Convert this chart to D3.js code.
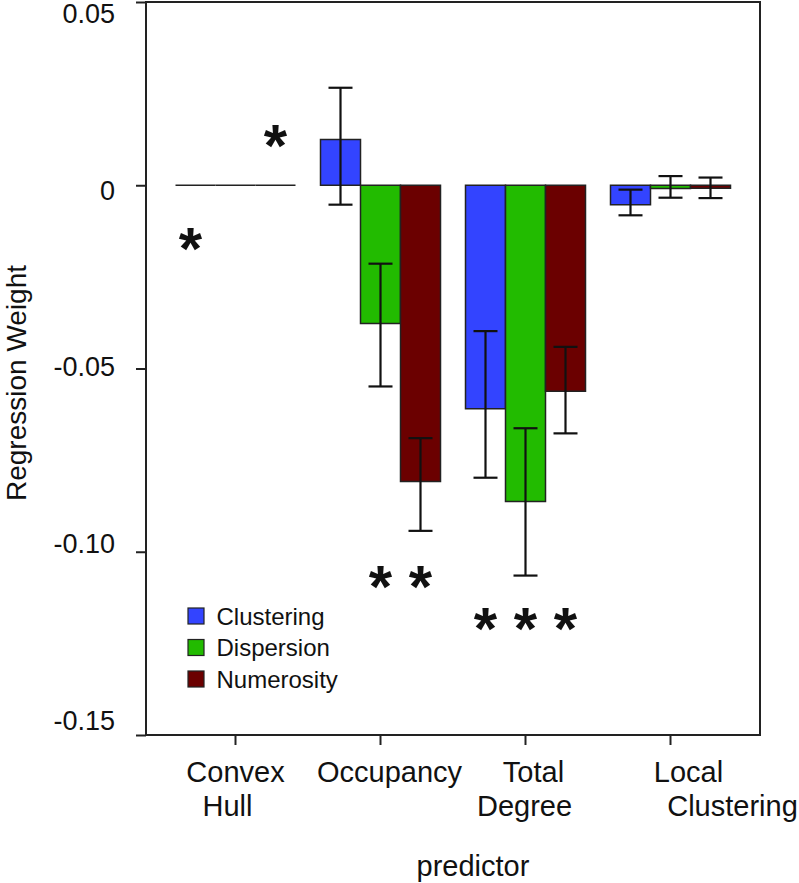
<!DOCTYPE html>
<html>
<head>
<meta charset="utf-8">
<script src="https://cdn.jsdelivr.net/npm/d3@7"></script>
<style>
  html, body { margin: 0; padding: 0; background: #fff; }
  svg { display: block; }
  text { font-family: "Liberation Sans", Arial, Helvetica, sans-serif; fill: #111; }
</style>
</head>
<body>
<svg id="chart" width="799" height="883"></svg>
<script>
// ---------- data ----------
const categories = ["Convex Hull", "Occupancy", "Total Degree", "Local Clustering"];
const categoryLines = [["Convex", "Hull"], ["Occupancy"], ["Total", "Degree"], ["Local", "Clustering"]];
const seriesNames = ["Clustering", "Dispersion", "Numerosity"];
const seriesColors = ["#3344ff", "#22bb00", "#6b0000"];

const clusteringValues = [0, 0.0125, -0.0610, -0.0053];
const clusteringLow    = [null, -0.0053, -0.0798, -0.0082];
const clusteringHigh   = [null, 0.0266, -0.0398, -0.0012];

const dispersionValues = [0, -0.0377, -0.0863, -0.0009];
const dispersionLow    = [null, -0.0549, -0.1065, -0.0034];
const dispersionHigh   = [null, -0.0214, -0.0663, 0.0025];

const numerosityValues = [0, -0.0808, -0.0562, -0.0008];
const numerosityLow    = [null, -0.0943, -0.0677, -0.0035];
const numerosityHigh   = [null, -0.0690, -0.0441, 0.0021];

const yTickValues = [0.05, 0, -0.05, -0.10, -0.15];
const yTickLabels = ["0.05", "0", "-0.05", "-0.10", "-0.15"];

// significance markers: category, series, vertical position (data units)
const starCategory = ["Convex Hull", "Convex Hull", "Occupancy", "Occupancy", "Total Degree", "Total Degree", "Total Degree"];
const starSeries   = ["Numerosity", "Clustering", "Dispersion", "Numerosity", "Clustering", "Dispersion", "Numerosity"];
const starValue    = [0.0145, -0.0136, -0.1059, -0.1059, -0.1174, -0.1174, -0.1174];

const xTitle = "predictor";
const yTitle = "Regression Weight";

// ---------- assemble ----------
const seriesTable = [
  { name: seriesNames[0], values: clusteringValues, low: clusteringLow, high: clusteringHigh },
  { name: seriesNames[1], values: dispersionValues, low: dispersionLow, high: dispersionHigh },
  { name: seriesNames[2], values: numerosityValues, low: numerosityLow, high: numerosityHigh }
];
const bars = [];
categories.forEach((c, i) => {
  seriesTable.forEach((s, j) => {
    bars.push({ cat: c, series: s.name, si: j, value: s.values[i], low: s.low[i], high: s.high[i] });
  });
});

// ---------- layout ----------
const frame = { left: 146, right: 760, top: 2, bottom: 735 };
const svg = d3.select("#chart");

const x0 = d3.scaleBand().domain(categories).range([163, 743]).padding(0);
const groupW = 120;
const x1 = d3.scaleBand().domain(seriesNames)
  .range([(x0.bandwidth() - groupW) / 2, (x0.bandwidth() + groupW) / 2]).padding(0);
const y = d3.scaleLinear().domain([-0.15, 0.05]).range([frame.bottom, frame.top]);
const color = d3.scaleOrdinal().domain(seriesNames).range(seriesColors);

// frame
svg.append("rect")
  .attr("x", frame.left).attr("y", frame.top)
  .attr("width", frame.right - frame.left).attr("height", frame.bottom - frame.top)
  .attr("fill", "none").attr("stroke", "#222").attr("stroke-width", 2);

// y axis
const yAxis = d3.axisLeft(y).tickValues(yTickValues)
  .tickFormat((d, i) => yTickLabels[i]).tickSize(10).tickSizeOuter(0).tickPadding(21);
const yg = svg.append("g").attr("transform", `translate(${frame.left},0)`).call(yAxis);
yg.select(".domain").remove();
yg.selectAll(".tick line").attr("stroke", "#222").attr("stroke-width", 2);
// labels are spread slightly tighter than the ticks in the reference
const labelCenter = d3.scaleLinear().domain([0.05, -0.15]).range([12.5, 720]);
yg.selectAll(".tick text")
  .attr("font-size", 27).attr("fill", "#111")
  .attr("font-family", "'Liberation Sans', Arial, Helvetica, sans-serif")
  .attr("dy", null)
  .attr("y", d => labelCenter(d) - y(d) + 0.36 * 27);

// x axis
const xAxis = d3.axisBottom(x0).tickSize(10).tickSizeOuter(0).tickFormat("");
const xg = svg.append("g").attr("transform", `translate(0,${frame.bottom})`).call(xAxis);
xg.select(".domain").remove();
xg.selectAll(".tick line").attr("stroke", "#222").attr("stroke-width", 2);

// category labels (multi-line)
const lineOffsets = [[0, -8], [9], [8, -1], [18, 62]];
categories.forEach((c, i) => {
  categoryLines[i].forEach((ln, k) => {
    svg.append("text")
      .attr("x", x0(c) + x0.bandwidth() / 2 + lineOffsets[i][k])
      .attr("y", 782 + k * 34)
      .attr("text-anchor", "middle")
      .attr("font-size", 29)
      .text(ln);
  });
});

// bars (drawn as closed paths so zero-height bars still show as a line)
const bx = d => x0(d.cat) + x1(d.series);
svg.append("g").selectAll("path").data(bars).join("path")
  .attr("d", d => {
    const xa = bx(d), xb = bx(d) + x1.bandwidth();
    const ya = y(0), yb = y(d.value);
    return `M${xa},${ya}L${xb},${ya}L${xb},${yb}L${xa},${yb}Z`;
  })
  .attr("fill", d => color(d.series))
  .attr("stroke", "#222").attr("stroke-width", 1.5);

// error bars
const eb = bars.filter(d => d.low !== null);
const cap = 12;
const cx = d => bx(d) + x1.bandwidth() / 2;
const eg = svg.append("g").attr("stroke", "#111").attr("stroke-width", 2.2);
eg.selectAll("line.v").data(eb).join("line").attr("class", "v")
  .attr("x1", cx).attr("x2", cx)
  .attr("y1", d => y(d.low)).attr("y2", d => y(d.high));
eg.selectAll("line.lo").data(eb).join("line").attr("class", "lo")
  .attr("x1", d => cx(d) - cap).attr("x2", d => cx(d) + cap)
  .attr("y1", d => y(d.low)).attr("y2", d => y(d.low));
eg.selectAll("line.hi").data(eb).join("line").attr("class", "hi")
  .attr("x1", d => cx(d) - cap).attr("x2", d => cx(d) + cap)
  .attr("y1", d => y(d.high)).attr("y2", d => y(d.high));

// significance stars
const starFs = 60;
svg.append("g").selectAll("text").data(starCategory.map((c, i) => ({ cat: c, series: starSeries[i], v: starValue[i] })))
  .join("text")
  .attr("x", d => cx(d) - (d.cat === "Convex Hull" && d.series === "Clustering" ? 5 : 0))
  .attr("y", d => y(d.v) + 0.56 * starFs)
  .attr("text-anchor", "middle")
  .attr("font-size", starFs).attr("font-weight", "bold")
  .text("*");

// legend
const lg = svg.append("g").attr("transform", "translate(188,608)");
const li = lg.selectAll("g").data(seriesNames).join("g")
  .attr("transform", (d, i) => `translate(0,${i * 31.5})`);
li.append("rect").attr("width", 16).attr("height", 16)
  .attr("fill", d => color(d)).attr("stroke", "#222").attr("stroke-width", 1.2);
li.append("text").attr("x", 28.5).attr("y", 8 + 0.36 * 24)
  .attr("font-size", 24).text(d => d);

// axis titles
svg.append("text").attr("x", 473).attr("y", 876).attr("text-anchor", "middle")
  .attr("font-size", 29).text(xTitle);
svg.append("text").attr("transform", "translate(26,383) rotate(-90)")
  .attr("text-anchor", "middle").attr("font-size", 28).text(yTitle);
</script>
</body>
</html>
